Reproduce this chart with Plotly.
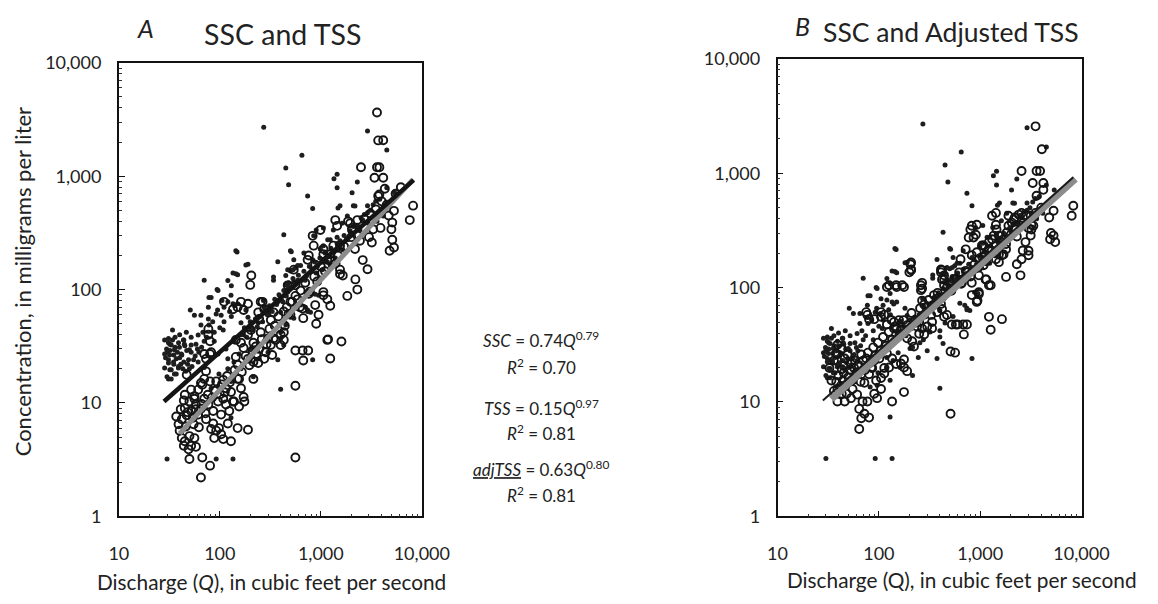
import plotly.graph_objects as go

# Suspended-sediment concentration (SSC) samples: (discharge cfs, mg/L)
ssc_points = [
    (272, 2700), (2900, 2500), (4500, 1700), (650, 1530), (450, 1180), (480, 840),
    (1450, 1040), (1350, 950), (1450, 790), (2300, 890), (740, 670), (830, 520),
    (1550, 550), (2100, 550), (2900, 550), (430, 305), (148, 215), (190, 167),
    (510, 216), (375, 176), (70, 121), (94, 100), (120, 120), (135, 140), (150, 135),
    (130, 108), (340, 121), (500, 146), (560, 155), (470, 108), (78, 85), (51, 66),
    (34, 44), (31, 37), (32, 33),
    (34, 36), (39, 34), (44, 36), (45, 32), (47, 29), (42, 26.5), (49, 24), (35, 26.5),
    (31, 24), (35, 22), (39, 21), (32, 19.6), (30, 17), (33, 16.3), (37, 18), (44, 23),
    (52, 28), (55, 24), (28.4, 36), (31, 34), (33, 32.5), (29.7, 30), (28.4, 27),
    (31.8, 26.5), (31, 22.5), (28.4, 20.3), (33, 19.6), (34.8, 23), (37, 24.5),
    (35.5, 29.4), (39.8, 31), (44.5, 33), (43.6, 36), (52, 38), (52, 32.5), (50, 29.4),
    (41.6, 27), (38.9, 20.3), (31, 16.3), (35.5, 18), (46.6, 42), (65, 48.6), (61, 39.7),
    (78, 48.6), (77, 55), (56, 59.5), (65, 59.5), (77, 70), (82, 85), (92, 61),
    (103, 59.5), (110, 70), (120, 78), (129, 89), (96, 98),
    (30, 3.2), (92, 3.2), (135, 3.2), (400, 13.2), (830, 24), (129, 7.4), (375, 24),
    (144, 220), (181, 165), (500, 220), (144, 138), (135, 75), (150, 75), (181, 66),
    (190, 57), (162, 51), (340, 129), (448, 111), (530, 150), (590, 163), (270, 80),
    (275, 70), (375, 80), (400, 85), (704, 70), (740, 66), (790, 63), (880, 91),
    (950, 89), (1450, 290), (1550, 244), (1650, 225), (1240, 199), (1160, 176),
    (1240, 163), (400, 37), (430, 32.5), (275, 35), (300, 28), (245, 24.5), (215, 30),
    (470, 150), (630, 163), (830, 183), (1060, 244), (1240, 275), (1330, 335),
    (1620, 385), (1830, 446), (2180, 546), (2900, 475), (3300, 560), (3830, 625),
    (4500, 790), (5380, 715), (900, 335), (1060, 350), (850, 298), (1170, 275),
    (990, 228), (680, 210), (540, 183), (450, 133), (590, 121), (700, 121), (900, 140),
    (1390, 190), (1480, 225), (1830, 275), (2040, 305), (2440, 335), (2600, 410),
    (2950, 385), (3600, 400), (4150, 446), (480, 100), (420, 78), (630, 73), (740, 64),
    (540, 56), (450, 49), (400, 42), (1060, 183), (1030, 150), (1480, 525), (2040, 715),
    (61, 23), (70, 20.5), (82, 24.5), (96, 27), (115, 30), (138, 35), (172, 40),
    (203, 45), (240, 51), (300, 63), (375, 78), (470, 95), (540, 117), (108, 44),
    (88, 35), (120, 24.5), (138, 23), (162, 20), (120, 20), (98, 18), (155, 27),
    (203, 29.4), (254, 33), (320, 41), (400, 63), (129, 15.5), (96, 14), (82, 13.5),
    (215, 17),
    (160, 40), (175, 46), (185, 38), (200, 52), (210, 44), (225, 55), (235, 47),
    (250, 58), (265, 52), (280, 66), (295, 60), (310, 72), (330, 64), (350, 82),
    (365, 74), (385, 90), (410, 80), (430, 98), (455, 88), (480, 115), (505, 104),
    (530, 125), (560, 112), (600, 134), (640, 120), (680, 145), (720, 132), (770, 160),
    (820, 150), (870, 175), (920, 160), (980, 190), (1040, 175), (1100, 210),
    (1180, 196), (1260, 232), (1350, 215), (1450, 255), (1550, 270), (1700, 300),
    (1800, 280), (1950, 330), (2100, 360), (2300, 370), (2500, 430), (2700, 460),
    (3100, 500), (3500, 600),
    (29, 25), (30, 28), (32, 29), (36, 31), (38, 28), (40, 25), (41, 22), (43, 20),
    (46, 19), (48, 22), (50, 20), (53, 21), (57, 26), (60, 30), (36, 38), (40, 40),
    (58, 33), (62, 28), (66, 31), (70, 35), (74, 38), (68, 42), (88, 42), (100, 46),
    (110, 52), (85, 52), (95, 66), (105, 80), (125, 64), (140, 72), (130, 58),
]

# Total suspended solids (TSS) samples
tss_points = [
    (3600, 3650), (4150, 2075), (3700, 2070), (2500, 1200), (3600, 1200), (3800, 1200),
    (3400, 970), (4150, 970), (4300, 775), (3700, 670), (3800, 690), (8200, 550),
    (7600, 410), (5300, 495), (4700, 450), (5100, 390), (5000, 340), (5100, 275),
    (4800, 220), (5300, 235), (3300, 340), (3000, 290), (3200, 260), (2600, 182),
    (2900, 151), (2200, 123), (2300, 100), (1830, 88), (205, 133), (200, 110),
    (3900, 350), (2440, 270), (2180, 228), (2040, 335), (2300, 410), (1950, 385),
    (1240, 72), (950, 60), (900, 50), (1160, 82), (1060, 89), (1180, 36.4),
    (1600, 34.8), (560, 29), (660, 29), (750, 29), (670, 23.7), (1240, 24.7),
    (1550, 150), (1650, 133), (1480, 200), (1330, 244), (1060, 228),
    (830, 298), (990, 335), (1390, 410), (1450, 365), (1860, 400), (2040, 350),
    (1550, 244), (1240, 205), (1060, 205), (850, 244), (740, 183), (540, 150),
    (470, 109), (560, 109), (630, 98), (520, 78), (660, 68), (760, 92), (1060, 95),
    (880, 73), (670, 56), (430, 64), (430, 36), (400, 32.5),
    (760, 200), (880, 166), (1160, 183), (1030, 140), (1550, 137), (1160, 36),
    (560, 14.2), (190, 75), (254, 78), (275, 67), (340, 63), (245, 55), (320, 54),
    (500, 78), (590, 82), (480, 61), (430, 42), (340, 37), (300, 37), (227, 31.5),
    (172, 30.5), (144, 25.5), (203, 24.5), (240, 22.5), (155, 16.3), (215, 16.3),
    (144, 36), (162, 34), (190, 40), (203, 44), (254, 42), (215, 34), (245, 30),
    (285, 28), (320, 32.5), (357, 36), (400, 40), (330, 26.5), (275, 24.5), (215, 23),
    (190, 24.5), (162, 78), (150, 70), (135, 67), (172, 66), (240, 63), (265, 78),
    (77, 45), (73, 19), (70, 16.3), (80, 15.5), (65, 15), (92, 15.5), (108, 16),
    (115, 13.5), (129, 12.5), (150, 16.3), (162, 13.5), (172, 11.3), (175, 10.3),
    (135, 10.3), (56, 11.5), (50, 10.3), (58, 9.7), (45, 9), (52, 8.5), (47, 7.8),
    (54, 7.4), (61, 7.9), (73, 7.2), (86, 6.6), (82, 5.9), (92, 5.7), (98, 6),
    (103, 5.3), (88, 4.9), (108, 4.8), (39, 6.5), (40, 5.7), (42, 4.9), (45, 4.6),
    (50, 5.1), (56, 4.9), (44, 4.2), (52, 4.2), (58, 4.1), (49, 3.9), (129, 4.6),
    (150, 6), (120, 6.6), (190, 5.8), (50, 3.2), (67, 3.3), (80, 2.8), (65, 2.2),
    (560, 3.3), (80, 35), (73, 24.5), (80, 27), (47, 17.7), (52, 13.1), (45, 11.8),
    (56, 10.9), (61, 13.1), (67, 14.5), (70, 10.9), (77, 9.7), (65, 8.9), (86, 8.5),
    (96, 10.3), (108, 10.9), (115, 9.7), (124, 8.5), (138, 10.3), (155, 9.3),
    (103, 7.9), (77, 40), (82, 28), (70, 27), (110, 78),
    (42, 7.2), (46, 6.2), (48, 8.3), (55, 6.5), (58, 8.8), (62, 6.1), (66, 9.8),
    (72, 8.1), (76, 11.8), (84, 11.2), (90, 12.8), (100, 11.9), (105, 14.6),
    (112, 12.4), (118, 17.3), (126, 15.2), (140, 19.5), (150, 21.7), (165, 18.8),
    (180, 26), (196, 21.5), (210, 29), (230, 27), (260, 36.5), (290, 33), (310, 45),
    (350, 48), (380, 58), (440, 48), (460, 70), (500, 60), (560, 88), (620, 70),
    (700, 115), (780, 96), (860, 130), (920, 118), (1000, 160), (1100, 145),
    (1250, 180), (1400, 170), (1700, 240), (2000, 290), (2300, 300), (2700, 420),
    (3100, 470), (3500, 510), (4000, 600), (4500, 560), (5500, 700), (6200, 800),
    (44, 10.5), (37, 7.6), (41, 8.8),
]

# Adjusted TSS samples
adj_tss_points = [
    (3520, 2570), (4060, 1620), (2560, 1045), (3600, 1045), (3900, 1045), (3300, 822),
    (4200, 822), (4200, 716), (3600, 636), (8300, 520), (8000, 425), (5300, 470),
    (4800, 410), (5000, 300), (4900, 265), (5300, 285), (5500, 250),
    (3520, 450), (3200, 355), (2850, 425), (2670, 370), (2400, 435), (2200, 410),
    (1900, 425), (2800, 250), (3000, 210), (2560, 177), (2300, 160), (2500, 128),
    (1800, 124), (2050, 370), (2250, 322), (1830, 303), (1530, 285), (1430, 355),
    (1310, 425), (1430, 450), (1310, 265), (1220, 250), (1800, 216), (1640, 192),
    (1530, 167), (1430, 177), (826, 347), (926, 355), (770, 274), (905, 290),
    (720, 216), (826, 192), (970, 177), (1130, 192), (1040, 234), (1220, 216),
    (208, 166), (208, 144), (200, 136), (126, 105), (148, 105), (170, 105), (267, 110),
    (267, 98), (410, 144), (440, 128), (550, 118), (620, 136), (660, 110), (826, 110),
    (970, 128), (1130, 118), (1220, 105), (826, 86), (970, 91),
    (2630, 211), (3000, 192), (1220, 55.5), (1270, 42.8), (1640, 53), (970, 88),
    (925, 75), (940, 77), (690, 39), (740, 47.6), (680, 47.6), (575, 47.6), (565, 27),
    (1700, 195), (1530, 195), (1430, 234), (1360, 285), (1450, 322), (1900, 347),
    (2150, 394), (2560, 450), (3150, 425), (3350, 347), (3150, 285), (3200, 322),
    (1700, 265), (1080, 234), (925, 204), (860, 274), (800, 322), (1150, 118),
    (1270, 105), (1080, 157), (740, 136), (640, 177),
    (205, 160), (208, 142), (150, 101), (177, 101), (120, 101), (260, 105), (260, 95),
    (420, 142), (440, 118), (267, 77), (280, 71), (75, 61), (80, 53), (105, 55.5),
    (113, 58), (133, 52), (141, 50), (158, 52), (150, 44), (165, 43), (238, 45.7),
    (267, 44), (300, 45.7), (335, 44), (222, 30.5), (250, 39.5), (280, 39),
    (120, 26.5), (135, 24), (148, 21.5), (165, 21.7), (177, 23.5), (177, 20),
    (190, 18.6), (126, 20), (113, 17.7), (105, 16.2), (94, 15.4), (84, 20), (75, 24),
    (67, 26), (135, 10.1), (177, 12.2), (105, 13), (90, 11.8), (96, 10.8), (77, 10.1),
    (69, 10.1), (61, 11.6), (55, 13), (64, 8.7), (72, 7.9), (80, 7.3), (67, 7.2),
    (64, 5.8), (46, 10.1), (43, 11.8), (39, 10.1), (510, 7.9), (510, 27.6),
    (39, 31.7), (43, 29.2), (46, 24), (49, 25.9), (53, 21.5), (57, 19.8), (61, 17.5),
    (44, 15.4), (39, 13), (48, 11.8), (53, 10.8), (43, 19.3), (36, 23), (38, 26.5),
    (32.5, 19.8), (34, 15.4), (67, 17.5), (72, 14.7), (80, 17.5), (86, 19.8), (90, 23),
    (101, 24), (113, 19.8), (77, 57.7), (90, 53), (105, 61), (120, 47.6), (141, 44),
    (165, 39), (190, 36), (213, 34), (250, 50), (328, 57.7), (375, 61), (410, 72),
    (350, 86), (335, 50), (440, 55.5), (410, 136), (420, 118), (440, 105), (375, 80),
    (420, 65), (470, 57.7), (525, 47.6), (600, 47.6),
    (36, 12.5), (38, 15), (40, 17), (42, 13.8), (45, 18), (47, 14), (50, 16.5),
    (52, 19), (55, 15.5), (58, 23), (60, 18), (63, 21), (66, 15), (70, 23), (73, 19),
    (78, 27), (82, 22), (88, 30), (92, 25.5), (98, 33), (104, 28), (110, 37),
    (118, 31), (125, 41), (135, 35), (145, 46), (160, 39), (175, 52), (190, 47),
    (210, 60), (230, 52), (255, 66), (280, 58), (310, 78), (340, 70), (380, 90),
    (420, 82), (470, 100), (520, 94), (580, 120), (650, 108), (720, 140), (800, 125),
    (880, 160), (960, 150), (1050, 185), (1150, 170), (1300, 210), (1450, 200),
    (1600, 250), (1800, 240), (2000, 290), (2300, 280), (2600, 350), (3000, 330),
    (3400, 420), (4000, 500),
]

# Power-law regressions: concentration = coef * Q ** exponent, fitted over q_range
fits = {
    "SSC": {"coef": 0.74, "exp": 0.79, "r2": 0.70, "q_range": (28, 8300)},
    "TSS": {"coef": 0.15, "exp": 0.97, "r2": 0.81, "q_range": (40, 8200)},
    "adjTSS": {"coef": 0.63, "exp": 0.80, "r2": 0.81, "q_range": (34, 8700)},
}

x_tickvals = [10, 100, 1000, 10000]
x_ticktext = ["10", "100", "1,000", "10,000"]
y_tickvals = [1, 10, 100, 1000, 10000]
y_ticktext = ["1", "10", "100", "1,000", "10,000"]

FONT = "Lato"
# Layout positions below are given in screen pixels; the page is shown at
# SCREEN_SCALE screen px per CSS px, inside the default 8 px body margin.
SCREEN_SCALE = 0.971
BODY_MARGIN = 8
W, H = 1174, 604


def px(x):
    """Screen pixel column -> paper x."""
    return (x / SCREEN_SCALE - BODY_MARGIN) / W


def py(y):
    """Screen pixel row -> paper y."""
    return 1 - (y / SCREEN_SCALE - BODY_MARGIN) / H


def split(points):
    return [p[0] for p in points], [p[1] for p in points]


def fit_line(name, n=40):
    f = fits[name]
    q0, q1 = f["q_range"]
    qs = [q0 * (q1 / q0) ** (i / (n - 1)) for i in range(n)]
    return qs, [f["coef"] * q ** f["exp"] for q in qs]


fig = go.Figure()

dot_style = dict(symbol="circle", size=5, color="#1e1e1e", line=dict(width=0))
ring_style = dict(symbol="circle-open", size=8, color="#141414", line=dict(width=1.9))

# Panel A: SSC and TSS
sx, sy = split(ssc_points)
tx, ty = split(tss_points)
fig.add_trace(go.Scatter(x=sx, y=sy, mode="markers", marker=dot_style, name="SSC",
                         xaxis="x", yaxis="y"))
fig.add_trace(go.Scatter(x=tx, y=ty, mode="markers", marker=ring_style, name="TSS",
                         xaxis="x", yaxis="y"))
lx, ly = fit_line("TSS")
fig.add_trace(go.Scatter(x=lx, y=ly, mode="lines", line=dict(color="#8c8c8c", width=5),
                         xaxis="x", yaxis="y"))
lx, ly = fit_line("SSC")
fig.add_trace(go.Scatter(x=lx, y=ly, mode="lines", line=dict(color="#141414", width=4.5),
                         xaxis="x", yaxis="y"))

# Panel B: SSC and adjusted TSS
ax, ay = split(adj_tss_points)
fig.add_trace(go.Scatter(x=sx, y=sy, mode="markers", marker=dot_style, name="SSC",
                         xaxis="x2", yaxis="y2"))
fig.add_trace(go.Scatter(x=ax, y=ay, mode="markers", marker=ring_style, name="adjTSS",
                         xaxis="x2", yaxis="y2"))
lx, ly = fit_line("adjTSS")
fig.add_trace(go.Scatter(x=lx, y=ly, mode="lines", line=dict(color="#8c8c8c", width=7),
                         xaxis="x2", yaxis="y2"))
lx, ly = fit_line("SSC")
fig.add_trace(go.Scatter(x=lx, y=ly, mode="lines", line=dict(color="#1a1a1a", width=2),
                         xaxis="x2", yaxis="y2"))

minor_x = [m * 10 ** e for e in (1, 2, 3) for m in range(2, 10)]
minor_y = [m * 10 ** e for e in (0, 1, 2, 3) for m in range(2, 10)]

tick_font = dict(family=FONT, size=18, color="#222")


def xaxis(domain, anchor):
    return dict(domain=domain, anchor=anchor, type="log", range=[1, 4],
                showline=True, linecolor="#111", linewidth=1.6, mirror=True,
                showgrid=False, zeroline=False, ticks="inside", ticklen=6,
                tickwidth=1.2, tickcolor="#111", tickvals=x_tickvals,
                ticktext=x_ticktext, tickfont=tick_font, ticklabelstandoff=20,
                minor=dict(tickvals=minor_x, ticks="inside", ticklen=3,
                           tickwidth=1, tickcolor="#333", showgrid=False))


def yaxis(domain, anchor):
    return dict(domain=domain, anchor=anchor, type="log", range=[0, 4],
                showline=True, linecolor="#111", linewidth=1.6, mirror=True,
                showgrid=False, zeroline=False, ticks="inside", ticklen=6,
                tickwidth=1.2, tickcolor="#111", tickvals=y_tickvals,
                ticktext=y_ticktext, tickfont=tick_font, ticklabelstandoff=12,
                minor=dict(tickvals=minor_y, ticks="inside", ticklen=3,
                           tickwidth=1, tickcolor="#333", showgrid=False))


def text(x, y, s, size=17, xanchor="center", color="#222"):
    return dict(x=px(x), y=py(y), xref="paper", yref="paper", text=s,
                showarrow=False, xanchor=xanchor, yanchor="middle",
                font=dict(family=FONT, size=size, color=color))


def eq(name, var):
    f = fits[name]
    return f"{var} = {f['coef']:.2f}<i>Q</i><sup>{f['exp']:.2f}</sup>"


def r2(name):
    return f"<i>R</i><sup>2</sup> = {fits[name]['r2']:.2f}"


annotations = [
    text(144, 24, "<i>A</i>", size=25),
    text(281, 30, "SSC and TSS", size=28.5),
    text(803, 22, "<i>B</i>", size=25),
    text(952, 28, "SSC and Adjusted TSS", size=26.5),
    text(270, 582, "Discharge (<i>Q</i>), in cubic feet per second", size=20.8),
    text(963, 580, "Discharge (Q), in cubic feet per second", size=20.8),
    text(541, 338, eq("SSC", "<i>SSC</i>"), size=17),
    text(541, 365, r2("SSC"), size=17),
    text(541, 406, eq("TSS", "<i>TSS</i>"), size=17),
    text(541, 432, r2("TSS"), size=17),
    text(541, 468, eq("adjTSS",
                      "<span style='text-decoration:underline dotted #777'><i>adjTSS</i></span>"),
         size=17),
    text(541, 494, r2("adjTSS"), size=17),
    dict(x=px(20), y=py(280), xref="paper", yref="paper",
         text="Concentration, in milligrams per liter", showarrow=False,
         textangle=-90, xanchor="center", yanchor="middle",
         font=dict(family=FONT, size=22, color="#222")),
]

fig.update_layout(
    width=W, height=H, margin=dict(l=0, r=0, t=0, b=0),
    paper_bgcolor="white", plot_bgcolor="white", showlegend=False,
    font=dict(family=FONT, color="#222"),
    xaxis=xaxis([px(117), px(421)], "y"),
    yaxis=yaxis([py(516), py(59)], "x"),
    xaxis2=xaxis([px(778), px(1083)], "y2"),
    yaxis2=yaxis([py(516), py(55)], "x2"),
    annotations=annotations,
)

fig.write_html("out.html")
